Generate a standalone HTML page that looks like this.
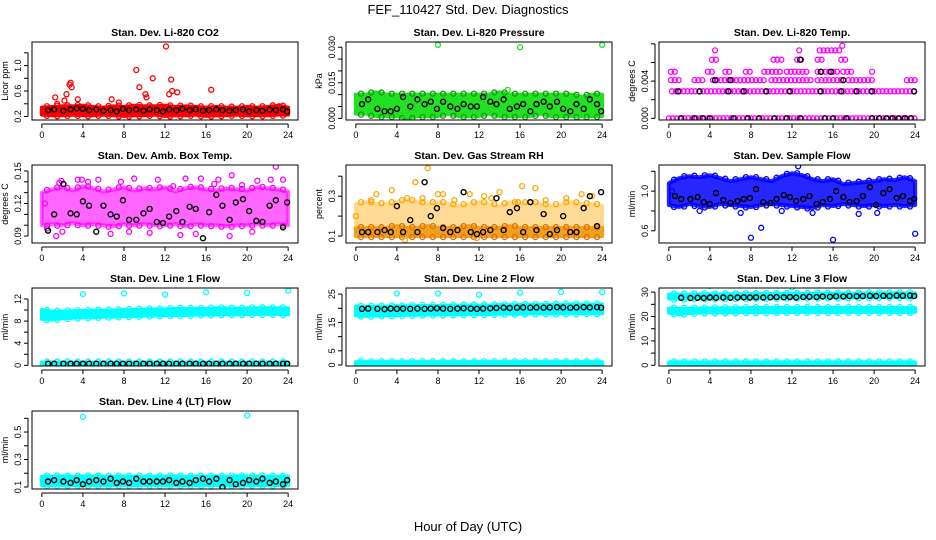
<!DOCTYPE html>
<html><head><meta charset="utf-8">
<style>
html,body{margin:0;padding:0;background:#fff;}
svg{display:block;font-family:"Liberation Sans",Arial,sans-serif;}
</style></head>
<body>
<svg id="chart" width="936" height="540" viewBox="0 0 936 540" xmlns="http://www.w3.org/2000/svg">
<text x="468" y="14" text-anchor="middle" font-size="13">FEF_110427  Std. Dev. Diagnostics</text>
<text x="468" y="531" text-anchor="middle" font-size="13">Hour of Day (UTC)</text>
</svg>
<script>
// ---------- data ----------
const hours=[0,1,2,3,4,5,6,7,8,9,10,11,12,13,14,15,16,17,18,19,20,21,22,23,24];
const blkX=[0.6,1.2,2.1,2.8,3.4,4.0,4.6,5.3,6.0,6.7,7.3,7.9,8.5,9.2,9.9,10.5,11.2,11.8,12.4,13.1,13.7,14.4,15.0,15.7,16.3,17.0,17.6,18.3,18.9,19.6,20.2,20.9,21.5,22.2,22.8,23.5,23.9];
const outHours=[4,8,12,16,20,24];

const co2Lo=[0.23,0.22,0.22,0.23,0.22,0.22,0.23,0.22,0.21,0.22,0.22,0.23,0.21,0.22,0.22,0.23,0.21,0.22,0.22,0.23,0.22,0.22,0.22,0.23,0.23];
const co2Hi=[0.34,0.35,0.36,0.36,0.37,0.35,0.34,0.36,0.35,0.37,0.36,0.36,0.37,0.35,0.36,0.35,0.34,0.35,0.34,0.34,0.35,0.34,0.35,0.37,0.34];
const co2OutX=[1.3,2.2,2.4,2.7,2.8,2.9,3.5,6.8,9.2,9.5,10.2,10.8,10.1,12.1,12.4,12.6,12.7,13.2,16.5,1.5,7.5,23.1];
const co2OutY=[0.50,0.45,0.55,0.70,0.73,0.66,0.47,0.47,0.93,0.66,0.50,0.80,0.55,1.30,0.55,0.78,0.60,0.58,0.62,0.40,0.42,0.36];
const co2Blk=[0.30,0.31,0.29,0.31,0.33,0.32,0.30,0.31,0.29,0.30,0.28,0.32,0.30,0.31,0.29,0.31,0.30,0.28,0.31,0.30,0.32,0.30,0.31,0.29,0.30,0.31,0.30,0.29,0.30,0.31,0.28,0.30,0.29,0.31,0.30,0.31,0.28];

const presLo=[0.002,0.002,0.001,0.001,0.001,0.000,0.001,0.001,0.001,0.002,0.001,0.001,0.001,0.002,0.001,0.001,0.001,0.001,0.002,0.001,0.001,0.001,0.001,0.001,0.001];
const presHi=[0.010,0.010,0.011,0.010,0.010,0.010,0.010,0.010,0.010,0.010,0.010,0.010,0.010,0.010,0.011,0.010,0.010,0.010,0.010,0.010,0.010,0.010,0.009,0.010,0.010];
const presOutX=[8,16,24,4.8,22,14.8];
const presOutY=[0.031,0.030,0.031,-0.0003,0.0000,0.012];
const presBlk=[0.006,0.008,0.004,0.003,0.003,0.004,0.009,0.005,0.008,0.006,0.007,0.004,0.007,0.005,0.004,0.006,0.005,0.005,0.009,0.007,0.006,0.008,0.004,0.005,0.006,0.003,0.006,0.007,0.005,0.007,0.004,0.003,0.006,0.004,0.008,0.006,0.003];

const tempLevels=[0,0.0029,0.0041,0.0041,0.0041,0.0041,0.0041,0.0041,0.0041,0.005,0.005,0.005,0.005,0.005,0.005,0.005,0.005,0.005,0.0063,0.0063,0.0063,0.0063,0.0063,0.0073,0.0073,0.0073,0.0078];
const tempSpanStart=[0,0.3,0.2,2.5,4.3,10,14.5,17.5,23.2,0.2,3.8,5.5,7.5,9.3,11.5,14.5,17,19.8,4.2,10.2,12.5,14.5,16.8,4.5,12.7,14.7,16.9];
const tempSpanEnd=[24,24,1.2,3.5,9.5,14,17,20,24,0.8,4.5,6.2,8,11,13.5,16.5,18,20,4.8,11,13.2,15,17.2,4.6,12.8,16.9,17.1];
const tempBlkX=[1.2,2.5,3.3,4.0,6.3,7.7,8.8,10.3,11.5,12.8,15.2,16.0,17.3,19.8,20.5,21.2,21.8,22.4,23.0,23.6,0.9,3.0,5.8,7.3,9.5,11.8,14.8,16.8,18.3,19.8,23.9,4.5,6.0,12.8,14.8,15.8,17.0];
const tempBlkY=[0,0,0,0,0,0,0,0,0,0,0,0,0,0,0,0,0,0,0,0,0.0029,0.0029,0.0029,0.0029,0.0029,0.0029,0.0029,0.0029,0.0029,0.0029,0.0029,0.0041,0.0041,0.0063,0.005,0.005,0.0041];

const ambLo=[0.100,0.101,0.100,0.102,0.100,0.101,0.100,0.099,0.101,0.100,0.101,0.100,0.100,0.101,0.099,0.101,0.100,0.100,0.099,0.100,0.100,0.101,0.100,0.101,0.100];
const ambHi=[0.130,0.133,0.135,0.132,0.136,0.134,0.131,0.133,0.135,0.132,0.134,0.133,0.135,0.131,0.134,0.135,0.133,0.132,0.134,0.133,0.132,0.135,0.134,0.133,0.131];
const ambOutX=[0.3,0.5,1.4,1.7,1.9,3.5,3.9,4.5,5.5,7.7,8.5,9.0,11.3,12.8,14.0,15.5,16.8,17.2,18.5,18.3,19.5,21.0,22.3,22.8,23.5,2.0,13.5,6.7,10.5,20.5,15.0];
const ambOutY=[0.120,0.097,0.090,0.139,0.141,0.142,0.142,0.140,0.142,0.140,0.094,0.143,0.142,0.136,0.143,0.143,0.138,0.142,0.146,0.090,0.137,0.141,0.142,0.154,0.142,0.094,0.091,0.092,0.093,0.094,0.092];
const ambBlk=[0.095,0.110,0.138,0.111,0.110,0.122,0.118,0.094,0.118,0.110,0.108,0.123,0.105,0.105,0.111,0.115,0.103,0.102,0.108,0.113,0.103,0.117,0.115,0.088,0.112,0.128,0.118,0.105,0.121,0.124,0.113,0.104,0.103,0.118,0.123,0.098,0.121];

const rhLo=[0.10,0.10,0.10,0.10,0.10,0.10,0.10,0.10,0.10,0.10,0.10,0.10,0.10,0.10,0.10,0.10,0.10,0.10,0.10,0.10,0.10,0.10,0.10,0.10,0.10];
const rhMid=[0.14,0.14,0.14,0.14,0.15,0.14,0.14,0.15,0.14,0.14,0.14,0.15,0.14,0.14,0.14,0.15,0.14,0.14,0.14,0.14,0.14,0.14,0.14,0.14,0.14];
const rhHi=[0.26,0.27,0.26,0.26,0.27,0.28,0.27,0.26,0.27,0.26,0.25,0.26,0.27,0.26,0.25,0.27,0.26,0.27,0.26,0.25,0.26,0.27,0.26,0.26,0.25];
const rhOutX=[0.0,1.5,2.0,3.5,5.0,5.8,6.5,7.0,8.0,8.5,9.6,11.1,12.5,13.2,14.0,15.8,16.2,17.5,18.5,20.5,22.0,23.0,4.8,11.8];
const rhOutY=[0.20,0.28,0.31,0.33,0.29,0.37,0.29,0.44,0.31,0.31,0.28,0.31,0.30,0.29,0.32,0.27,0.35,0.34,0.28,0.29,0.31,0.30,0.08,0.09];
const rhBlk=[0.12,0.12,0.12,0.13,0.12,0.25,0.12,0.18,0.12,0.37,0.20,0.24,0.14,0.12,0.13,0.32,0.12,0.11,0.12,0.13,0.29,0.13,0.22,0.24,0.12,0.27,0.13,0.21,0.11,0.13,0.20,0.12,0.12,0.24,0.30,0.15,0.32];

const flowLo=[0.86,0.84,0.87,0.85,0.84,0.87,0.86,0.85,0.84,0.86,0.87,0.86,0.85,0.84,0.83,0.86,0.85,0.87,0.86,0.85,0.86,0.85,0.86,0.85,0.86];
const flowHi=[1.08,1.13,1.15,1.14,1.16,1.13,1.10,1.12,1.14,1.12,1.10,1.15,1.18,1.16,1.12,1.10,1.12,1.07,1.08,1.09,1.10,1.12,1.11,1.14,1.10];
const flowOutX=[8,9,16,24,12.6,0.3,3,7,14,18.5,20.3,11];
const flowOutY=[0.53,0.63,0.51,0.57,1.25,1.00,0.80,0.78,0.78,0.77,0.78,0.80];
const flowBlk=[0.95,0.92,0.92,0.94,0.89,0.87,0.98,0.91,0.88,0.90,0.92,0.93,1.02,0.89,0.88,0.92,0.96,0.94,0.90,0.92,0.95,0.87,0.89,0.92,1.00,0.94,0.89,0.90,0.95,1.04,0.86,0.98,1.02,0.93,0.95,0.90,0.92];

const l1Lo=[8.4,8.3,8.5,8.6,8.7,8.7,8.8,8.8,8.9,8.9,9.0,9.0,9.1,9.1,9.1,9.2,9.2,9.2,9.3,9.2,9.3,9.3,9.3,9.3,9.2];
const l1Hi=[10.0,9.7,9.7,9.8,9.8,9.9,9.9,9.9,10.0,10.0,10.1,10.1,10.1,10.2,10.2,10.2,10.2,10.3,10.3,10.2,10.3,10.3,10.3,10.3,10.3];
const l1BotLo=[0,0,0,0,0,0,0,0,0,0,0,0,0,0,0,0,0,0,0,0,0,0,0,0,0];
const l1BotHi=[0.5,0.5,0.5,0.5,0.5,0.5,0.5,0.5,0.5,0.5,0.5,0.5,0.5,0.5,0.5,0.5,0.5,0.5,0.5,0.5,0.5,0.5,0.5,0.5,0.5];
const l1OutY=[12.9,13.0,12.8,13.2,13.1,13.5];
const l1Blk=[0.3,0.3,0.3,0.3,0.3,0.3,0.3,0.3,0.3,0.3,0.3,0.3,0.3,0.3,0.3,0.3,0.3,0.3,0.3,0.3,0.3,0.3,0.3,0.3,0.3,0.3,0.3,0.3,0.3,0.3,0.3,0.3,0.3,0.3,0.3,0.3,0.3];

const l2Lo=[17.5,17.3,17.5,17.6,17.6,17.7,17.7,17.8,17.8,17.9,17.9,18.0,18.0,18.0,18.1,18.1,18.1,18.2,18.2,18.2,18.2,18.2,18.3,18.3,18.2];
const l2Hi=[20.6,20.5,20.6,20.6,20.7,20.7,20.8,20.8,20.8,20.9,20.9,21.0,21.0,21.0,21.1,21.1,21.1,21.2,21.2,21.2,21.3,21.3,21.3,21.3,21.3];
const l2BotLo=[0,0,0,0,0,0,0,0,0,0,0,0,0,0,0,0,0,0,0,0,0,0,0,0,0];
const l2BotHi=[1.0,1.0,1.0,1.0,1.0,1.0,1.0,1.0,1.0,1.0,1.0,1.0,1.0,1.0,1.0,1.0,1.0,1.0,1.0,1.0,1.0,1.0,1.0,1.0,1.0];
const l2OutY=[25.2,25.2,24.8,25.5,25.8,25.7];
const l2Blk=[19.8,19.9,19.8,19.7,19.9,19.8,19.9,19.8,19.9,19.8,19.9,20.0,19.9,19.8,19.9,20.0,19.9,19.8,19.9,20.0,20.1,20.2,20.1,20.2,20.3,20.2,20.3,20.2,20.3,20.4,20.3,20.2,20.3,20.4,20.3,20.4,20.2];

const l3Lo=[27.4,27.3,27.4,27.5,27.5,27.5,27.6,27.6,27.6,27.7,27.7,27.7,27.8,27.8,27.8,27.8,27.9,27.9,27.9,27.9,28.0,28.0,28.0,28.0,28.0];
const l3Hi=[29.0,29.0,29.0,29.1,29.1,29.1,29.2,29.2,29.2,29.2,29.3,29.3,29.3,29.3,29.4,29.4,29.4,29.4,29.4,29.5,29.5,29.5,29.5,29.5,29.5];
const l3MidLo=[21.6,21.0,21.5,21.6,21.7,21.7,21.7,21.8,21.8,21.8,21.8,21.9,21.9,21.9,21.9,21.9,21.9,21.9,21.9,21.9,21.9,21.9,21.9,21.9,21.9];
const l3MidHi=[23.3,23.2,23.2,23.3,23.3,23.4,23.4,23.4,23.5,23.5,23.5,23.5,23.5,23.5,23.5,23.5,23.5,23.5,23.5,23.5,23.5,23.5,23.5,23.5,23.5];
const l3BotLo=[0,0,0,0,0,0,0,0,0,0,0,0,0,0,0,0,0,0,0,0,0,0,0,0,0];
const l3BotHi=[1.2,1.2,1.2,1.2,1.2,1.2,1.2,1.2,1.2,1.2,1.2,1.2,1.2,1.2,1.2,1.2,1.2,1.2,1.2,1.2,1.2,1.2,1.2,1.2,1.2];
const l3OutY=[32.5,33.0,32.0,33.5,33.5,34.0];
const l3Blk=[27.6,27.7,27.6,27.7,27.6,27.8,27.7,27.8,27.7,27.8,27.9,27.8,27.9,27.8,27.9,28.0,27.9,28.0,27.8,28.0,28.1,28.0,28.2,28.1,28.3,28.2,28.4,28.3,28.4,28.5,28.4,28.5,28.4,28.6,28.5,28.6,28.4];

const l4Lo=[0.115,0.115,0.116,0.115,0.115,0.116,0.115,0.115,0.116,0.115,0.115,0.115,0.116,0.115,0.115,0.115,0.116,0.115,0.115,0.115,0.116,0.115,0.115,0.115,0.116];
const l4Hi=[0.175,0.176,0.176,0.175,0.176,0.177,0.175,0.175,0.176,0.175,0.176,0.175,0.176,0.177,0.175,0.176,0.175,0.176,0.175,0.176,0.177,0.176,0.175,0.175,0.176];
const l4OutX=[4,12,20];
const l4OutY=[0.61,0.67,0.62];
const l4Blk=[0.14,0.15,0.14,0.13,0.15,0.12,0.14,0.15,0.14,0.16,0.13,0.14,0.13,0.16,0.14,0.14,0.14,0.14,0.15,0.13,0.14,0.13,0.15,0.16,0.14,0.16,0.10,0.15,0.12,0.13,0.15,0.14,0.16,0.13,0.14,0.12,0.15];

const xTicks=[0,4,8,12,16,20,24];

// ---------- rendering ----------
const NS='http://www.w3.org/2000/svg';
const svg=document.getElementById('chart');
function mk(tag,attrs,parent){const e=document.createElementNS(NS,tag);for(const k in attrs)e.setAttribute(k,attrs[k]);(parent||svg).appendChild(e);return e;}

const colX=[32,346,659], rowY=[42,165,288,411], PW=266, PH=78;

function panel(o){
  const g=mk('g',{});
  
  
  const bx=colX[o.c], by=rowY[o.r];
  const sx=h=>bx+(h+0.96)/25.92*PW;
  const sy=v=>by+PH-(v-o.ymin)/(o.ymax-o.ymin)*PH;
  const clipId='clip'+o.c+o.r;
  const cp=mk('clipPath',{id:clipId},g);mk('rect',{x:bx,y:by,width:PW,height:PH},cp);
  const plot=mk('g',{'clip-path':'url(#'+clipId+')'},g);
  
  
  (o.bands||[]).forEach(b=>{
    let pts=hours.map((h,i)=>sx(h)+','+sy(b.hi[i]));
    pts=pts.concat(hours.slice().reverse().map((h,j)=>sx(h)+','+sy(b.lo[hours.length-1-j])));
    const p=mk('polygon',{points:pts.join(' '),fill:b.fill||o.col,'fill-opacity':b.op||1,stroke:b.fill||o.col,'stroke-opacity':b.op||1,'stroke-width':4,'stroke-linejoin':'round'},plot);
    
    
    hours.forEach((h,i)=>{ if(i<hours.length-1){ [b.hi,b.lo].forEach(arr=>{
      const c=mk('circle',{cx:sx(h+0.5),cy:sy((arr[i]+arr[i+1])/2)+(arr===b.hi?-1:1),r:2.5,fill:'none',stroke:b.edge||b.fill||o.col,'stroke-width':1.3},plot);
      
      
    });}});
  });
  if(o.spans){o.spans.lv.forEach((lv,i)=>{
    for(let h=o.spans.s[i];h<=o.spans.e[i]+0.001;h+=0.38){
      const c=mk('circle',{cx:sx(h),cy:sy(lv),r:2.5,fill:'none',stroke:o.col,'stroke-width':1.3},plot);
      
      
    }});}
  if(o.outX){o.outX.forEach((h,i)=>{
    const c=mk('circle',{cx:sx(h),cy:sy(o.outY[i]),r:2.5,fill:'none',stroke:o.col,'stroke-width':1.3},plot);
    
    
  });}
  o.blkX.forEach((h,i)=>{
    const c=mk('circle',{cx:sx(h),cy:sy(o.blkY[i]),r:2.5,fill:'none',stroke:'#000','stroke-width':1.4},plot);
    
    
  });
  const box=mk('rect',{x:bx,y:by,width:PW,height:PH,fill:'none',stroke:'#000','stroke-width':1},g);
  
  
  const t=mk('text',{x:bx+PW/2,y:by-6,'text-anchor':'middle','font-size':10.5,'font-weight':'bold'},g);
  t.textContent=o.title;
  
  
  mk('line',{x1:sx(0),x2:sx(24),y1:by+PH+4,y2:by+PH+4,stroke:'#000'},g);
  xTicks.forEach(h=>{
    mk('line',{x1:sx(h),x2:sx(h),y1:by+PH+4,y2:by+PH+8,stroke:'#000'},g);
    const l=mk('text',{x:sx(h),y:by+PH+18,'text-anchor':'middle','font-size':9},g);
    l.textContent=h;
    
    
  });
  mk('line',{x1:bx-4,x2:bx-4,y1:sy(o.yt[0]),y2:sy(o.yt[o.yt.length-1]),stroke:'#000'},g);
  o.yt.forEach(v=>{mk('line',{x1:bx-8,x2:bx-4,y1:sy(v),y2:sy(v),stroke:'#000'},g);});
  o.yl.forEach((s,i)=>{
    const y=sy(o.ylv[i]);
    const l=mk('text',{x:bx-11,y:y,'text-anchor':'middle','font-size':9,transform:'rotate(-90 '+(bx-11)+' '+y+')'},g);
    l.textContent=s;
    
    
  });
  const yt=by+PH/2;
  const at=mk('text',{x:bx-24,y:yt,'text-anchor':'middle','font-size':9,transform:'rotate(-90 '+(bx-24)+' '+yt+')'},g);
  at.textContent=o.ylab;
  
  
}

panel({name:'panel-co2',c:0,r:0,col:'#ff0000',title:'Stan. Dev. Li-820 CO2',ylab:'Licor ppm',ymin:0.145,ymax:1.37,yt:[0.2,0.4,0.6,0.8,1.0,1.2],yl:['0.2','0.6','1.0'],ylv:[0.2,0.6,1.0],bands:[{lo:co2Lo,hi:co2Hi}],outX:co2OutX,outY:co2OutY,blkX:blkX,blkY:co2Blk});
panel({name:'panel-pressure',c:1,r:0,col:'#22e022',title:'Stan. Dev. Li-820 Pressure',ylab:'kPa',ymin:-0.0007,ymax:0.0322,yt:[0,0.005,0.01,0.015,0.02,0.025,0.03],yl:['0.000','0.015','0.030'],ylv:[0,0.015,0.03],bands:[{lo:presLo,hi:presHi,edge:'#119911'}],outX:presOutX,outY:presOutY,blkX:blkX,blkY:presBlk});
panel({name:'panel-li820-temp',c:2,r:0,col:'#ff00ff',title:'Stan. Dev. Li-820 Temp.',ylab:'degrees C',ymin:-0.00018,ymax:0.0082,yt:[0,0.002,0.004,0.006,0.008],yl:['0.000','0.004'],ylv:[0,0.004],spans:{lv:tempLevels,s:tempSpanStart,e:tempSpanEnd},blkX:tempBlkX,blkY:tempBlkY});
panel({name:'panel-amb-box-temp',c:0,r:1,col:'#ff00ff',title:'Stan. Dev. Amb. Box Temp.',ylab:'degrees C',ymin:0.0836,ymax:0.1555,yt:[0.09,0.10,0.11,0.12,0.13,0.14,0.15],yl:['0.09','0.12','0.15'],ylv:[0.09,0.12,0.15],bands:[{lo:ambLo,hi:ambHi,op:0.6}],outX:ambOutX,outY:ambOutY,blkX:blkX,blkY:ambBlk});
panel({name:'panel-gas-rh',c:1,r:1,col:'#ffa500',title:'Stan. Dev. Gas Stream RH',ylab:'percent',ymin:0.0653,ymax:0.456,yt:[0.1,0.2,0.3,0.4],yl:['0.1','0.3'],ylv:[0.1,0.3],bands:[{lo:rhMid,hi:rhHi,fill:'#ffd27a',edge:'#ffa500',op:0.8},{lo:rhLo,hi:rhMid,fill:'#f0a020',edge:'#e07000'}],outX:rhOutX,outY:rhOutY,blkX:blkX,blkY:rhBlk});
panel({name:'panel-sample-flow',c:2,r:1,col:'#0000ff',title:'Stan. Dev. Sample Flow',ylab:'ml/min',ymin:0.477,ymax:1.263,yt:[0.6,0.8,1.0,1.2],yl:['0.6','1.0'],ylv:[0.6,1.0],bands:[{lo:flowLo,hi:flowHi,op:0.85}],outX:flowOutX,outY:flowOutY,blkX:blkX,blkY:flowBlk});
panel({name:'panel-line1-flow',c:0,r:2,col:'#00ffff',title:'Stan. Dev. Line 1 Flow',ylab:'ml/min',ymin:-0.12,ymax:13.98,yt:[0,2,4,6,8,10,12],yl:['0','4','8','12'],ylv:[0,4,8,12],bands:[{lo:l1Lo,hi:l1Hi},{lo:l1BotLo,hi:l1BotHi}],outX:outHours,outY:l1OutY,blkX:blkX,blkY:l1Blk});
panel({name:'panel-line2-flow',c:1,r:2,col:'#00ffff',title:'Stan. Dev. Line 2 Flow',ylab:'ml/min',ymin:-0.35,ymax:27.15,yt:[0,5,10,15,20,25],yl:['0','5','15','25'],ylv:[0,5,15,25],bands:[{lo:l2Lo,hi:l2Hi},{lo:l2BotLo,hi:l2BotHi}],outX:outHours,outY:l2OutY,blkX:blkX,blkY:l2Blk});
panel({name:'panel-line3-flow',c:2,r:2,col:'#00ffff',title:'Stan. Dev. Line 3 Flow',ylab:'ml/min',ymin:-0.29,ymax:31.7,yt:[0,5,10,15,20,25,30],yl:['0','10','20','30'],ylv:[0,10,20,30],bands:[{lo:l3Lo,hi:l3Hi},{lo:l3MidLo,hi:l3MidHi},{lo:l3BotLo,hi:l3BotHi}],outX:outHours,outY:l3OutY,blkX:blkX.slice(1),blkY:l3Blk.slice(1)});
panel({name:'panel-line4-flow',c:0,r:3,col:'#00ffff',title:'Stan. Dev. Line 4 (LT) Flow',ylab:'ml/min',ymin:0.0855,ymax:0.653,yt:[0.1,0.2,0.3,0.4,0.5,0.6],yl:['0.1','0.3','0.5'],ylv:[0.1,0.3,0.5],bands:[{lo:l4Lo,hi:l4Hi}],outX:l4OutX,outY:l4OutY,blkX:blkX,blkY:l4Blk});
</script>
</body></html>
